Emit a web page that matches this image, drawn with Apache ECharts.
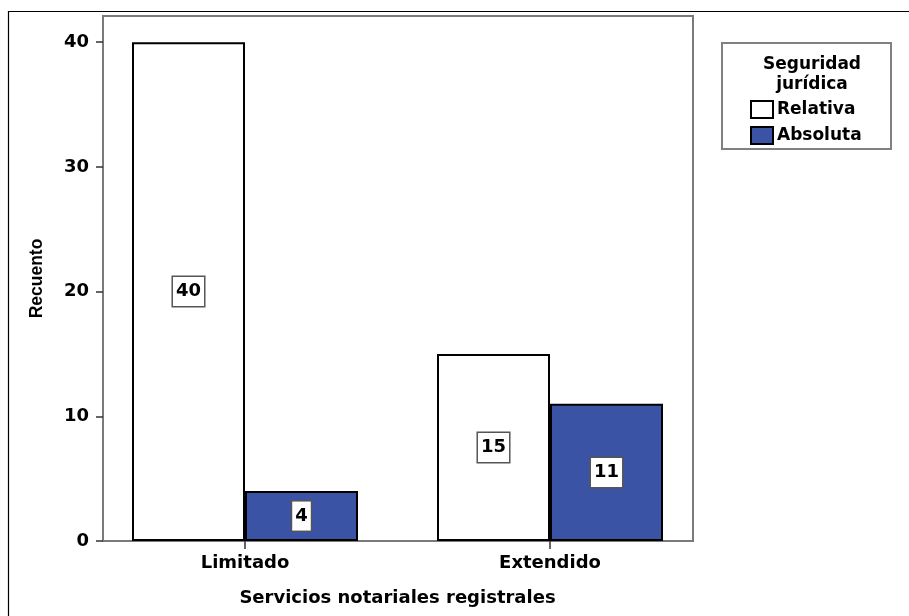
<!DOCTYPE html>
<html>
<head>
<meta charset="utf-8">
<script src="https://cdn.jsdelivr.net/npm/echarts@6/dist/echarts.min.js"></script>
<style>
  html, body { margin: 0; padding: 0; background: #fff; }
  #chart { width: 909px; height: 616px; }
</style>
</head>
<body>
<div id="chart"></div>
<script>
// Recuento de seguridad jurídica por tipo de servicio notarial registral
const categories = ['Limitado', 'Extendido'];
const relativa = [40, 15];
const absoluta = [4, 11];
const yTicks = [0, 10, 20, 30, 40];

const FONT = 'DejaVu Sans';
const BLUE = '#3a53a5';

const labelBox = {
  show: true,
  position: 'inside',
  color: '#000',
  fontFamily: FONT,
  fontWeight: 'bold',
  fontSize: 18,
  lineHeight: 20,
  backgroundColor: '#fff',
  borderColor: '#555',
  borderWidth: 1.5,
  padding: [5, 3, 4, 3]
};

const chart = echarts.init(document.getElementById('chart'), null, { renderer: 'canvas' });

chart.setOption({
  animation: false,
  backgroundColor: '#fff',
  title: {
    text: 'Seguridad\njurídica',
    left: 807,
    top: 50,
    textAlign: 'center',
    textStyle: {
      fontFamily: FONT,
      fontWeight: 'bold',
      fontSize: 17,
      lineHeight: 20,
      color: '#000'
    }
  },
  legend: {
    data: ['Relativa', 'Absoluta'],
    orient: 'vertical',
    left: 750,
    top: 100,
    padding: 0,
    itemWidth: 22,
    itemHeight: 17,
    itemGap: 7,
    icon: 'rect',
    textStyle: {
      fontFamily: FONT,
      fontWeight: 'bold',
      fontSize: 17,
      color: '#000',
      padding: [0, 0, 0, -1]
    }
  },
  graphic: [
    {
      type: 'polyline',
      shape: { points: [[8.5, 616], [8.5, 11.5], [909, 11.5]] },
      style: { stroke: '#000', lineWidth: 1.2, fill: null },
      silent: true
    },
    {
      type: 'rect',
      shape: { x: 722, y: 43, width: 169, height: 106 },
      style: { stroke: '#808080', lineWidth: 2, fill: null },
      silent: true,
      z: -1
    }
  ],
  grid: [
    { left: 103, right: 216, top: 16, bottom: 75, show: true, borderColor: '#7a7a7a', borderWidth: 2, backgroundColor: 'transparent' },
    { left: 92.5, right: 206.5, top: 16, bottom: 75 }
  ],
  xAxis: [
    { gridIndex: 0, type: 'value', show: false, min: 0, max: 1 },
    {
      gridIndex: 1,
      type: 'category',
      data: categories,
      axisLine: { show: false },
      axisTick: { show: true, alignWithLabel: true, length: 8, lineStyle: { color: '#333', width: 1.5 } },
      axisLabel: { margin: 13, color: '#000', fontFamily: FONT, fontWeight: 'bold', fontSize: 18 },
      name: 'Servicios notariales registrales',
      nameLocation: 'middle',
      nameGap: 48,
      nameTextStyle: { color: '#000', fontFamily: FONT, fontWeight: 'bold', fontSize: 18 }
    }
  ],
  yAxis: [
    {
      gridIndex: 0,
      type: 'value',
      min: 0,
      max: 42.1,
      interval: 10,
      axisLine: { show: false },
      axisTick: { show: true, length: 7, lineStyle: { color: '#333', width: 1.5 }, customValues: yTicks },
      axisLabel: {
        margin: 14,
        color: '#000',
        fontFamily: FONT,
        fontWeight: 'bold',
        fontSize: 18,
        customValues: yTicks
      },
      splitLine: { show: false },
      name: 'Recuento',
      nameLocation: 'middle',
      nameGap: 57,
      nameTextStyle: { color: '#000', fontFamily: 'Liberation Sans', fontWeight: 'bold', fontSize: 17.5 }
    },
    { gridIndex: 1, type: 'value', min: 0, max: 42.1, show: false }
  ],
  series: [
    {
      name: 'Relativa',
      type: 'bar',
      xAxisIndex: 1,
      yAxisIndex: 1,
      data: relativa,
      barWidth: 113,
      barGap: '0%',
      itemStyle: { color: '#fff', borderColor: '#000', borderWidth: 2 },
      label: labelBox
    },
    {
      name: 'Absoluta',
      type: 'bar',
      xAxisIndex: 1,
      yAxisIndex: 1,
      data: absoluta,
      barWidth: 113,
      barGap: '0%',
      itemStyle: { color: BLUE, borderColor: '#000', borderWidth: 2 },
      label: labelBox
    }
  ]
});
</script>
</body>
</html>
